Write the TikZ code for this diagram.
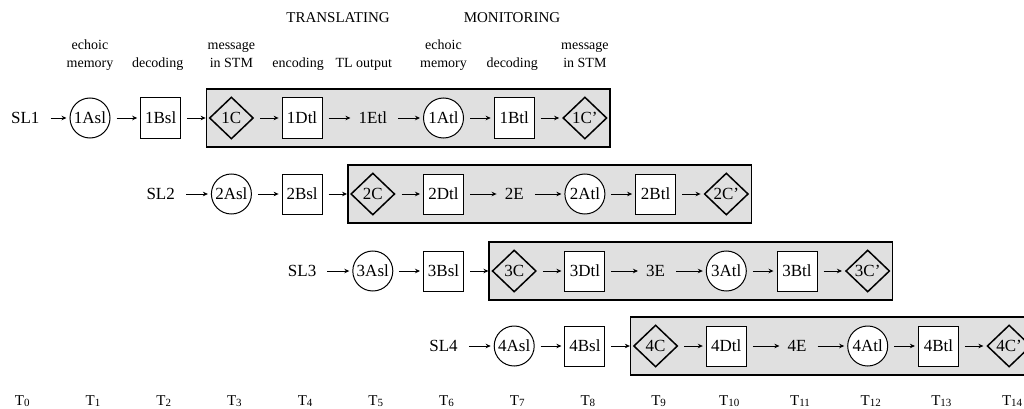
\documentclass[tikz,border=0pt]{standalone}
\usepackage{fontspec}
\setmainfont{Liberation Serif}
\usetikzlibrary{shapes.geometric,arrows.meta}
\begin{document}
\begin{tikzpicture}[x=1pt,y=-1pt,
  every node/.style={font=\fontsize{17}{19}\selectfont, inner sep=0pt},
  circ/.style={circle, draw, line width=1pt, minimum size=40pt, fill=white},
  sq/.style={rectangle, draw, line width=1pt, minimum size=40pt, fill=white},
  dia/.style={diamond, draw, line width=1.5pt, minimum width=44pt, minimum height=42pt},
  txt/.style={inner sep=5pt},
  arr/.style={-{Stealth[length=5pt,width=4.5pt]}, line width=1pt, shorten <=6pt, shorten >=3pt},
  panel/.style={draw, line width=1.5pt, fill=gray!24},
  lab/.style={font=\fontsize{14}{16}\selectfont, anchor=base},
  head/.style={font=\fontsize{15}{17}\selectfont, anchor=base},
  tlab/.style={font=\fontsize{15}{17}\selectfont, anchor=base},
  ]
\useasboundingbox (0,0) rectangle (1024,409);

% headers
\node[head] (hT) at (338,23) {TRANSLATING};
\node[head] (hM) at (512,23) {MONITORING};

% column labels
\node[lab] (l1a) at ({19.3+70.7*1},50) {echoic};
\node[lab] (l1b) at ({19.3+70.7*1},68) {memory};
\node[lab] (l2)  at ({19.3+70.7*2-3},68) {decoding};
\node[lab] (l3a) at ({19.3+70.7*3},50) {message};
\node[lab] (l3b) at ({19.3+70.7*3},68) {in STM};
\node[lab] (l4)  at ({19.3+70.7*4-4},68) {encoding};
\node[lab] (l5)  at ({19.3+70.7*5-9},68) {TL output};
\node[lab] (l6a) at ({19.3+70.7*6},50) {echoic};
\node[lab] (l6b) at ({19.3+70.7*6},68) {memory};
\node[lab] (l7)  at ({19.3+70.7*7-2},68) {decoding};
\node[lab] (l8a) at ({19.3+70.7*8},50) {message};
\node[lab] (l8b) at ({19.3+70.7*8},68) {in STM};

% rows
\foreach \r/\s/\y in {1/1/118, 2/3/194, 3/5/271, 4/7/346}{
  \draw[panel] ({19.3+70.7*(\s+2)-25},\y-29) rectangle ({19.3+70.7*(\s+7)+25},\y+29);
  \ifnum\r=1
    \node[txt] (sl\r) at ({19.3+70.7*(\s-1)+6},\y) {SL\r};
  \else
    \node[txt] (sl\r) at ({19.3+70.7*(\s-1)},\y) {SL\r};
  \fi
  \node[circ] (a\r)  at ({19.3+70.7*\s},\y) {\r Asl};
  \node[sq]   (b\r)  at ({19.3+70.7*(\s+1)},\y) {\r Bsl};
  \node[dia]  (c\r)  at ({19.3+70.7*(\s+2)},\y) {\r C};
  \node[sq]   (d\r)  at ({19.3+70.7*(\s+3)},\y) {\r Dtl};
  \ifnum\r=1
    \node[txt] (e\r) at ({19.3+70.7*(\s+4)},\y) {\r Etl};
  \else
    \node[txt] (e\r) at ({19.3+70.7*(\s+4)},\y) {\r E};
  \fi
  \node[circ] (at\r) at ({19.3+70.7*(\s+5)},\y) {\r Atl};
  \node[sq]   (bt\r) at ({19.3+70.7*(\s+6)},\y) {\r Btl};
  \node[dia]  (cp\r) at ({19.3+70.7*(\s+7)},\y) {\r C\textquoteright};
  \draw[arr] (sl\r) -- (a\r);
  \draw[arr] (a\r) -- (b\r);
  \draw[arr] (b\r) -- (c\r);
  \draw[arr] (c\r) -- (d\r);
  \draw[arr] (d\r) -- (e\r);
  \draw[arr] (e\r) -- (at\r);
  \draw[arr] (at\r) -- (bt\r);
  \draw[arr] (bt\r) -- (cp\r);
}

% time labels
\foreach \k in {0,...,14}{
  \node[tlab] (t\k) at ({19.3+70.7*\k+3},405) {T\raisebox{-1.5pt}{\fontsize{11}{12}\selectfont\k}};
}
\end{tikzpicture}
\end{document}
